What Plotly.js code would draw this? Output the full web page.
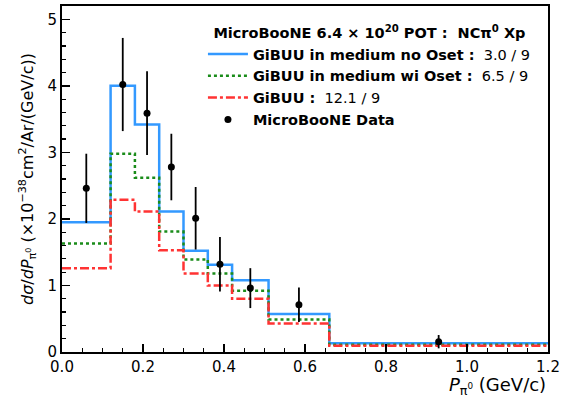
<!DOCTYPE html>
<html><head><meta charset="utf-8">
<script src="https://cdn.plot.ly/plotly-3.0.1.min.js"></script>
<style>body{margin:0;padding:0;background:#fff}#plot{width:562px;height:401px}</style>
</head><body><div id="plot"></div>
<script>
var binEdges = [0, 0.12, 0.18, 0.24, 0.30, 0.36, 0.42, 0.51, 0.66, 1.2];
var noOset   = [1.95, 4.00, 3.42, 2.11, 1.52, 1.31, 1.08, 0.57, 0.13];
var wiOset   = [1.63, 2.98, 2.62, 1.81, 1.39, 1.18, 0.92, 0.49, 0.11];
var gibuu    = [1.26, 2.29, 2.11, 1.53, 1.18, 1.00, 0.80, 0.43, 0.095];
var dataX    = [0.06, 0.15, 0.21, 0.27, 0.33, 0.39, 0.465, 0.585, 0.93];
var dataY    = [2.46, 4.02, 3.59, 2.78, 2.01, 1.32, 0.96, 0.71, 0.155];
var dataErr  = [0.52, 0.70, 0.63, 0.50, 0.47, 0.41, 0.30, 0.26, 0.10];
var names = [
  '<b>GiBUU in medium no Oset :</b>  3.0 / 9',
  '<b>GiBUU in medium wi Oset :</b>  6.5 / 9',
  '<b>GiBUU :</b>  12.1 / 9',
  '<b>MicroBooNE Data</b>'
];
var xTicks = [0, 0.2, 0.4, 0.6, 0.8, 1.0, 1.2];
var yTicks = [0, 1, 2, 3, 4, 5];

function step(vals){ return vals.concat([vals[vals.length-1]]); }

var traces = [
  {x: binEdges, y: step(noOset), mode:'lines', line:{shape:'hv', color:'#3399ff', width:2.5}, name:names[0]},
  {x: binEdges, y: step(wiOset), mode:'lines', line:{shape:'hv', color:'#1a8c1a', width:2.5, dash:'dot'}, name:names[1]},
  {x: binEdges, y: step(gibuu), mode:'lines', line:{shape:'hv', color:'#ff3333', width:2.5, dash:'dashdot'}, name:names[2]},
  {x: dataX, y: dataY, mode:'markers', marker:{color:'black', size:7},
   error_y:{type:'data', array:dataErr, visible:true, color:'black', thickness:1.8, width:0}, name:names[3]}
];

var axisCommon = {
  showgrid:false, zeroline:false, showline:true, linecolor:'black', linewidth:2, mirror:true,
  ticks:'inside', ticklen:8, tickwidth:1.5, tickcolor:'black',
  tickfont:{family:'DejaVu Sans', size:15, color:'black'}
};

var layout = {
  width:562, height:401,
  margin:{l:62, r:14, t:6, b:49},
  paper_bgcolor:'white', plot_bgcolor:'white',
  font:{family:'DejaVu Sans', color:'black'},
  showlegend:true,
  legend:{
    x:0.29, y:0.962, xanchor:'left', yanchor:'top',
    bgcolor:'rgba(0,0,0,0)', borderwidth:0,
    font:{family:'DejaVu Sans', size:14.5, color:'black'},
    title:{text:'<b>MicroBooNE 6.4 × 10<sup>20</sup> POT :  NCπ<sup>0</sup> Xp</b>', side:'top center', font:{family:'DejaVu Sans', size:14.5}},
    tracegroupgap:0, itemwidth:40
  },
  xaxis: Object.assign({}, axisCommon, {
    range:[0, 1.2], tickvals:xTicks, tickformat:'.1f',
    minor:{dtick:0.05, ticks:'inside', ticklen:4, tickwidth:1.2, tickcolor:'black'}
  }),
  yaxis: Object.assign({}, axisCommon, {
    range:[0, 5.2], tickvals:yTicks,
    minor:{dtick:0.2, ticks:'inside', ticklen:4, tickwidth:1.2, tickcolor:'black'},
    title:{text:'<i>dσ</i>/<i>dP</i><sub>π<sup>0</sup></sub> (×10<sup>−38</sup>cm<sup>2</sup>/Ar/(GeV/c))', font:{family:'DejaVu Sans', size:16}, standoff:10}
  }),
  annotations:[
    {xref:'paper', yref:'paper', x:1, y:-0.058, xanchor:'right', yanchor:'top', showarrow:false,
     text:'<i>P</i><sub>π<sup>0</sup></sub> (GeV/c)', font:{family:'DejaVu Sans', size:18, color:'black'}}
  ]
};

Plotly.newPlot('plot', traces, layout, {staticPlot:true, displayModeBar:false});
</script></body></html>
